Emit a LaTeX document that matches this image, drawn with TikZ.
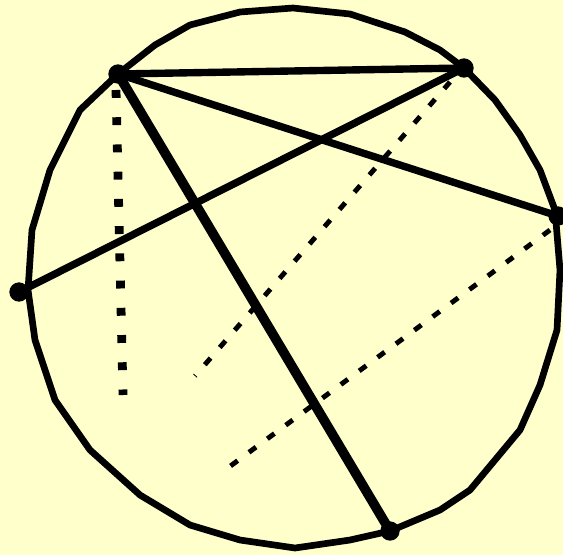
\documentclass[tikz,border=0pt]{standalone}
\usepackage{xcolor}
\usetikzlibrary{positioning,calc}

\definecolor{paper}{HTML}{FFFFCC}
\tikzset{
  rim/.style={line width=3.8pt, line join=round},
  chord/.style={line width=4.2pt},
  dotv/.style={line width=5pt, dash pattern=on 4.5pt off 11pt},
  dotd/.style={line width=2.8pt, dash pattern=on 5pt off 8pt},
  pt/.style={circle, fill, inner sep=0pt, minimum size=11pt}
}

\begin{document}
\begin{tikzpicture}[x=0.02cm,y=-0.02cm]
% paper
\fill[paper] (0,0) rectangle (563,555);
\useasboundingbox (0,0) rectangle (563,555);

% the (hand drawn) circle
\draw[rim] (240,12) -- (293,8) -- (350,14) -- (405,32) -- (440,50) -- (464,68)
  -- (495,100) -- (520,135) -- (540,170) -- (555,210) -- (560,270) -- (557,330)
  -- (540,385) -- (520,430) -- (470,490) -- (440,510) -- (390,531) -- (350,540)
  -- (295,548) -- (240,540) -- (190,525) -- (140,495) -- (90,450) -- (55,400)
  -- (35,340) -- (28,290) -- (32,230) -- (50,170) -- (80,110) -- (118,74)
  -- (155,45) -- (190,25) -- cycle;

% points on the circle
\node[pt] (A) at (118,74) {};
\node[pt] (B) at (464,68) {};
\node[pt] (C) at (558,216) {};
\node[pt] (D) at (19,292) {};
\node[pt] (E) at (390,531) {};

\coordinate (Ad) at (123,395);
\coordinate (Bd) at (195,376);
\coordinate (Cd) at (225,470);

% chords
\draw[chord] (A.center) -- (B.center);
\draw[chord] (A.center) -- (C.center);
\draw[chord] (D.center) -- (B.center);
\draw[line width=5.5pt] (A.center) -- (E.center);

% dotted lines
\draw[dotv] ($(A.center)+(-2,16)$) -- (Ad);
\draw[dotd] ($(B.center)+(-14,14)$) -- (Bd);
\draw[dotd] ($(C.center)+(-8,14)$) -- (Cd);
\end{tikzpicture}
\end{document}
